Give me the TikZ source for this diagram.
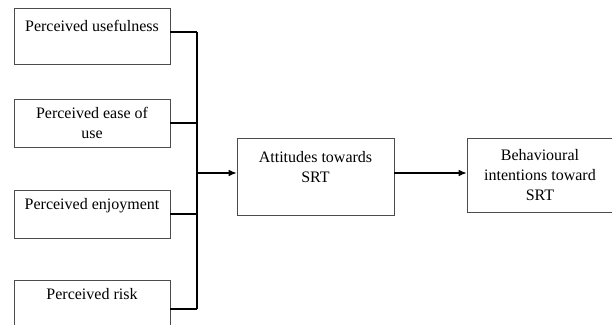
\documentclass[tikz,border=0pt]{standalone}
\usepackage{fontspec}
\setmainfont{Liberation Serif}
\usetikzlibrary{positioning,arrows.meta}

\begin{document}
\begin{tikzpicture}[x=0.75pt,y=0.75pt,
    factor/.style={draw=black!70,line width=0.6pt,inner sep=0pt,align=center,
      font=\fontsize{12}{15}\selectfont,minimum width=117pt,minimum height=36pt},
    link/.style={line width=0.8pt}]
  \useasboundingbox (0,0) rectangle (612,325);
  \clip (0,0) rectangle (612,325);
  % factors on the left
  \node[factor,minimum height=42pt] (useful) at (92,289) {Perceived usefulness\\ ~};
  \node[factor] (ease) at (92,202) {Perceived ease of\\ use};
  \node[factor] (enjoy) at (92,111) {Perceived enjoyment\\ ~};
  \node[factor] (risk) at (92,21) {Perceived risk\\ ~};
  \node[factor,minimum width=117.75pt,minimum height=57.75pt] (att) at (315.5,148.5) {Attitudes towards\\ SRT\\ ~};
  \node[factor,minimum width=109.5pt,minimum height=55.5pt] (beh) at (540,150) {Behavioural\\ intentions toward\\ SRT};
  % bus
  \coordinate (bustop) at (197,293);
  \coordinate (busbot) at (197,16);
  \coordinate (hub) at (197,152);
  \draw[link] (bustop) -- (busbot);
  \draw[link] ([yshift=3pt]useful.east) -- (bustop);
  \draw[link] (ease.east) -- (ease.east -| hub);
  \draw[link] (enjoy.east) -- (enjoy.east -| hub);
  \draw[link] ([yshift=-3.75pt]risk.east) -- (busbot);
  \draw[link,-{Latex[length=6pt,width=5pt]}] (hub) -- (hub -| att.west);
  \draw[link,-{Latex[length=6pt,width=5pt]}] (att.east |- hub) -- (hub -| beh.west);
\end{tikzpicture}
\end{document}
